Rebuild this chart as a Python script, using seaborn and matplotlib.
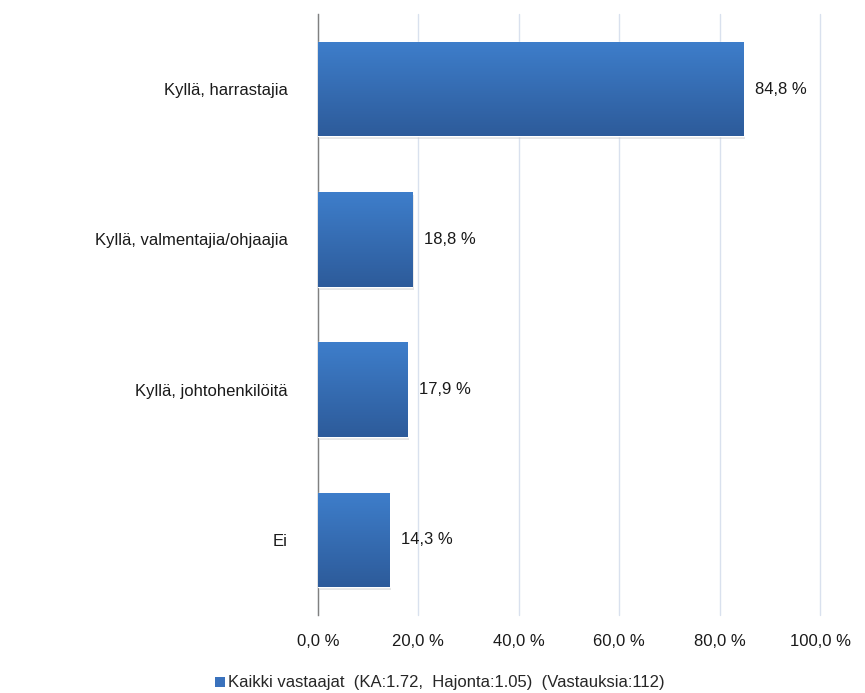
import numpy as np
import pandas as pd
import seaborn as sns
import matplotlib.pyplot as plt
from matplotlib.patches import Patch

categories = ['Kyllä, harrastajia', 'Kyllä, valmentajia/ohjaajia', 'Kyllä, johtohenkilöitä', 'Ei']
values = [84.8, 18.8, 17.9, 14.3]
value_labels = ['84,8 %', '18,8 %', '17,9 %', '14,3 %']
xticks = [0, 20, 40, 60, 80, 100]
xtick_labels = ['0,0 %', '20,0 %', '40,0 %', '60,0 %', '80,0 %', '100,0 %']
legend_label = 'Kaikki vastaajat  (KA:1.72,  Hajonta:1.05)  (Vastauksia:112)'

df = pd.DataFrame({'category': categories, 'value': values})

sns.set_style('white')
plt.rcParams['font.family'] = ['Liberation Sans', 'DejaVu Sans']

fig = plt.figure(figsize=(8.65, 6.93), dpi=100)
ax = fig.add_axes([318 / 865, 1 - 615 / 693, 502 / 865, 601 / 693])

sns.barplot(data=df, x='value', y='category', color='#3a72bd', width=0.63,
            saturation=1, ax=ax, zorder=3)

# gradient fill on each bar
grad = np.linspace(0, 1, 256).reshape(-1, 1)
cmap = sns.blend_palette(['#3e7ecb', '#2d5b9a'], as_cmap=True)
for p in ax.patches:
    x0, y0 = p.get_x(), p.get_y()
    w, h = p.get_width(), p.get_height()
    # soft shadow
    sh = plt.Rectangle((x0 + 0.3, y0 + 0.02), w, h, color='#c8c8c8', alpha=0.45, zorder=2, lw=0)
    ax.add_patch(sh)
    im = ax.imshow(grad, extent=[x0, x0 + w, y0 + h, y0], aspect='auto', cmap=cmap,
                   zorder=4, origin='upper')
    im.set_clip_path(p)

for i, (v, lab) in enumerate(zip(values, value_labels)):
    ax.text(v + 2.3, i, lab, va='center', ha='left', fontsize=12, color='#1a1a1a', zorder=5)

ax.set_xlim(0, 100)
ax.set_ylim(3.5, -0.5)
ax.set_xticks(xticks)
ax.set_xticklabels(xtick_labels, fontsize=12, color='#1a1a1a')
ax.tick_params(axis='y', labelsize=12, labelcolor='#1a1a1a', length=0, pad=22)
ax.tick_params(axis='x', length=0, pad=14)
ax.set_xlabel('')
ax.set_ylabel('')
ax.grid(axis='x', color='#d9e1ee', lw=1, zorder=0)
for gl in ax.get_xgridlines():
    gl.set_clip_on(False)
ax.set_axisbelow(True)
for s in ['top', 'right', 'bottom']:
    ax.spines[s].set_visible(False)
ax.spines['left'].set_color('#808080')
ax.spines['left'].set_linewidth(1)

handle = Patch(facecolor='#3a72bd', edgecolor='none')
fig.legend([handle], [legend_label], loc='center', bbox_to_anchor=(440 / 865, 1 - 683 / 693),
           frameon=False, fontsize=12, handlelength=0.55, handleheight=0.55, handletextpad=0.2)

fig.savefig('out.png', dpi=100)
